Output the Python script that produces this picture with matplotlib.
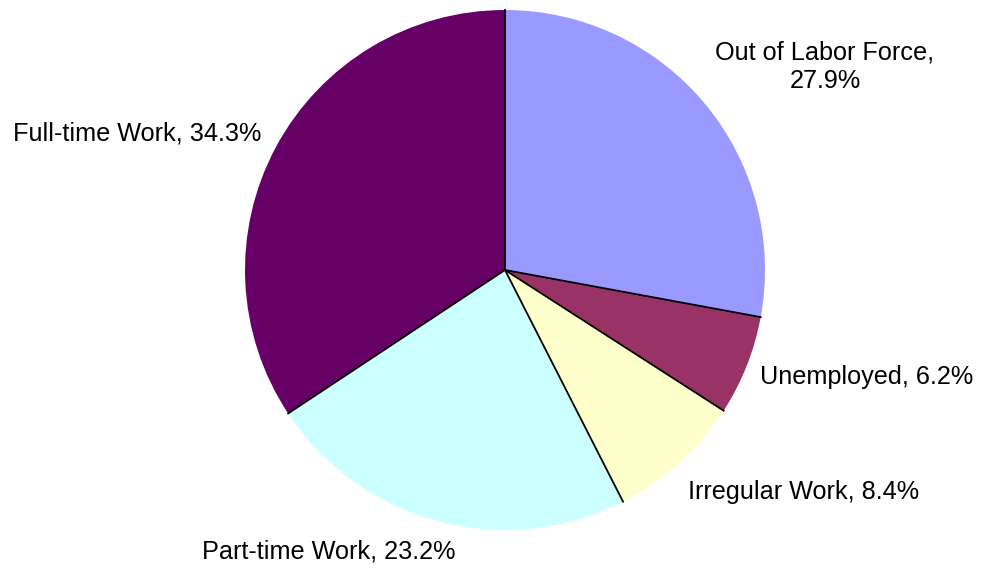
import numpy as np
import matplotlib
matplotlib.use("Agg")
import matplotlib.pyplot as plt

plt.rcParams['font.family'] = ['Liberation Sans', 'DejaVu Sans']

# categories and shares (%), clockwise from 12 o'clock
labels = ["Out of Labor Force", "Unemployed", "Irregular Work", "Part-time Work", "Full-time Work"]
values = [27.9, 6.2, 8.4, 23.2, 34.3]
colors = ["#9999FF", "#993366", "#FFFFCC", "#CCFFFF", "#660066"]

fig = plt.figure(figsize=(9.84, 5.69), dpi=100)
ax = fig.add_axes([0, 0, 1, 1])

cx, cy, r = 505, 299, 260
wedges, texts = ax.pie(values, colors=colors, startangle=90, counterclock=False,
                       center=(cx, cy), radius=r, frame=True,
                       wedgeprops=dict(linewidth=0))
ax.set_xlim(0, 984)
ax.set_ylim(0, 569)
ax.axis("off")

# black spokes between slices
ang = 90 - np.cumsum([0] + values) * 3.6
for a in ang[:-1]:
    t = np.deg2rad(a)
    ax.plot([cx, cx + r * np.cos(t)], [cy, cy + r * np.sin(t)], color="black", lw=1.3)

# label positions (pixels from top-left), alignment
pos = [(825, 67, "center"), (760, 377, "left"), (688, 492, "left"),
       (329, 551, "center"), (137, 133, "center")]
for (lab, v), (px, py, ha) in zip(zip(labels, values), pos):
    txt = f"{lab},\n{v}%" if lab == "Out of Labor Force" else f"{lab}, {v}%"
    ax.text(px, 569 - py, txt, ha=ha, va="center", fontsize=18.2, linespacing=1.25)

fig.savefig("out.png", dpi=100)
